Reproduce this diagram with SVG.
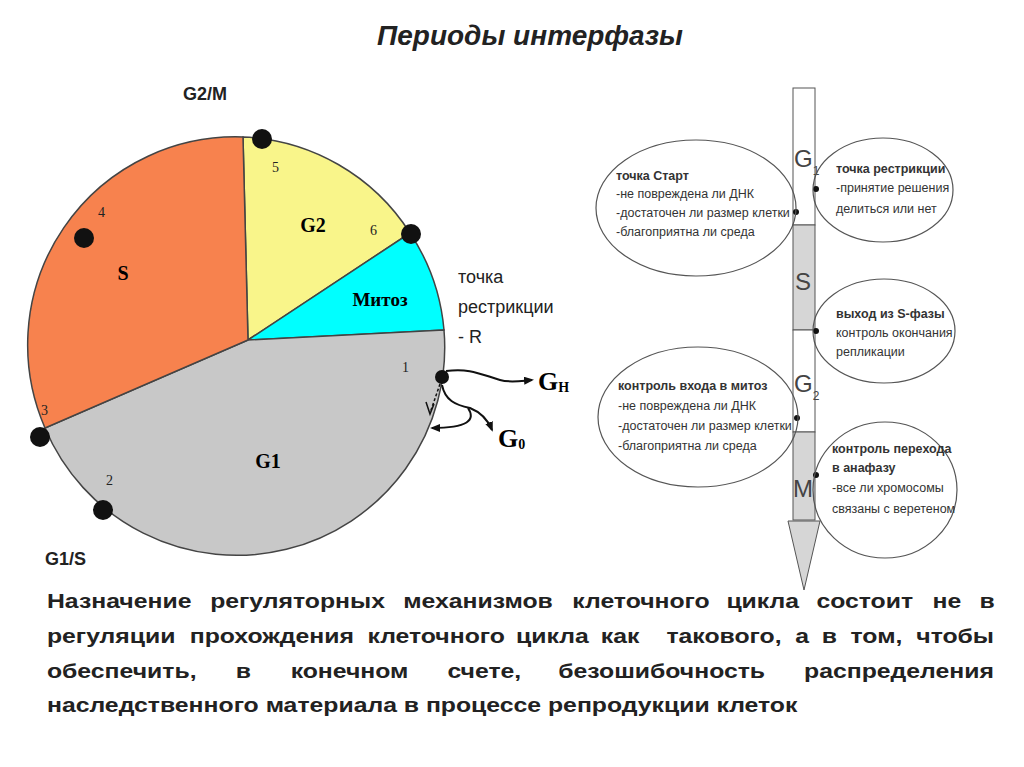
<svg xmlns="http://www.w3.org/2000/svg" width="1024" height="767" viewBox="0 0 1024 767">
<style>
.t{font-family:"Liberation Sans",Arial,sans-serif}
.tr{font-family:"Liberation Serif","Times New Roman",serif;font-weight:bold}
.sec{stroke:#444;stroke-width:1.5}
.ov{fill:none;stroke:#555;stroke-width:1.2}
.ot{font-family:"Liberation Sans",Arial,sans-serif;font-size:12.5px;fill:#333}
.ob{font-weight:bold}
.dot{fill:#111}
.para{font-family:"Liberation Sans",Arial,sans-serif;font-size:21px;font-weight:bold;fill:#222}
.ln{fill:none;stroke:#111;stroke-width:2}
</style>
<defs>
<marker id="ah" markerWidth="10" markerHeight="8" refX="8" refY="4" orient="auto" markerUnits="userSpaceOnUse"><path d="M0,0 L10,4 L0,8 Z" fill="#111"/></marker>
</defs>
<rect width="1024" height="767" fill="#fff"/>
<text class="t" x="530" y="45" font-size="28" font-style="italic" font-weight="bold" text-anchor="middle" fill="#222">Периоды интерфазы</text>

<g id="cycle">
<path class="sec" fill="#f9f58a" d="M248,340 L243,137 A208,208 0 0 1 410,233 Z"/>
<path class="sec" fill="#00ffff" d="M248,340 L410,233 A208,208 0 0 1 444,330 Z"/>
<path class="sec" fill="#c8c8c8" d="M248,340 L444,330 A208,208 0 0 1 45,428 Z"/>
<path class="sec" fill="#f7824e" d="M248,340 L45,428 A208,208 0 0 1 243,137 Z"/>
<text class="tr" x="313" y="232" font-size="20" text-anchor="middle">G2</text>
<text class="tr" x="123" y="280" font-size="20" text-anchor="middle">S</text>
<text class="tr" x="380" y="306" font-size="19" text-anchor="middle">Митоз</text>
<text class="tr" x="268" y="468" font-size="20" text-anchor="middle">G1</text>
<g font-family="Liberation Serif,serif" font-size="14" fill="#222">
<text x="272" y="172">5</text><text x="370" y="235">6</text><text x="98" y="217">4</text>
<text x="41" y="415">3</text><text x="106" y="485">2</text><text x="402" y="372">1</text>
</g>
<circle class="dot" cx="262" cy="139" r="10"/><circle class="dot" cx="411" cy="234" r="10"/>
<circle class="dot" cx="84" cy="238" r="10"/><circle class="dot" cx="40" cy="437" r="10"/>
<circle class="dot" cx="103" cy="510" r="10"/><circle class="dot" cx="442" cy="377" r="7"/>
</g>
<text class="t" x="183" y="100" font-size="18" font-weight="bold" fill="#222">G2/M</text>
<text class="t" x="45" y="565" font-size="18" font-weight="bold" fill="#222">G1/S</text>
<g id="label-r" class="t" font-size="18" fill="#222">
<text x="458" y="283">точка</text><text x="458" y="313">рестрикции</text><text x="458" y="343">- R</text>
</g>
<g id="connectors">
<path class="ln" d="M446,371 C470,368 480,374 500,380 C510,383 520,381 532,380" marker-end="url(#ah)"/>
<path class="ln" d="M442,385 C445,400 455,405 470,408 C480,412 488,420 492,430" marker-end="url(#ah)"/>
<path class="ln" d="M468,408 C476,420 468,428 432,428" marker-end="url(#ah)"/>
<path d="M440,384 L430,413" stroke="#111" stroke-width="1.5" stroke-dasharray="3,2" fill="none"/>
<path d="M426,402 L430,414 L434,404" stroke="#111" stroke-width="1.5" fill="none"/>
</g>
<text class="tr" x="538" y="390" font-size="26">G<tspan font-size="14" dy="2">H</tspan></text>
<text class="tr" x="498" y="447" font-size="26">G<tspan font-size="14" dy="2">0</tspan></text>

<g id="bar">
<rect x="793" y="88" width="22" height="137" fill="#fff" stroke="#555"/>
<rect x="793" y="225" width="22" height="105" fill="#d6d6d6" stroke="#555"/>
<rect x="793" y="330" width="22" height="102" fill="#fff" stroke="#555"/>
<rect x="793" y="432" width="22" height="88" fill="#d6d6d6" stroke="#555"/>
<path d="M788,521 L820,521 L804,590 Z" fill="#d6d6d6" stroke="#555"/>
<g class="t" font-size="24" fill="#444">
<text x="794" y="167">G<tspan font-size="12" dy="8">1</tspan></text>
<text x="795" y="290">S</text>
<text x="794" y="392">G<tspan font-size="12" dy="8">2</tspan></text>
<text x="793" y="497">M</text>
</g>
<circle class="dot" cx="816" cy="189" r="3"/><circle class="dot" cx="796" cy="212" r="3"/>
<circle class="dot" cx="816" cy="331" r="3"/><circle class="dot" cx="797" cy="418" r="3"/>
<circle class="dot" cx="816" cy="475" r="3"/>
</g>

<g id="oval-start"><ellipse class="ov" cx="696" cy="208" rx="100" ry="68"/>
<text class="ot ob" x="616" y="180">точка Старт</text>
<text class="ot" x="616" y="198">-не повреждена ли ДНК</text>
<text class="ot" x="616" y="217">-достаточен ли размер клетки</text>
<text class="ot" x="616" y="236">-благоприятна ли среда</text></g>
<g id="oval-r"><ellipse class="ov" cx="883" cy="190" rx="70" ry="52"/>
<text class="ot ob" x="836" y="173">точка рестрикции</text>
<text class="ot" x="836" y="192">-принятие решения</text>
<text class="ot" x="836" y="213">делиться или нет</text></g>
<g id="oval-s"><ellipse class="ov" cx="884" cy="331" rx="71" ry="52"/>
<text class="ot ob" x="836" y="318">выход из S-фазы</text>
<text class="ot" x="836" y="337">контроль окончания</text>
<text class="ot" x="836" y="356">репликации</text></g>
<g id="oval-m"><ellipse class="ov" cx="698" cy="417" rx="100" ry="70"/>
<text class="ot ob" x="618" y="390">контроль входа в митоз</text>
<text class="ot" x="618" y="410">-не повреждена ли ДНК</text>
<text class="ot" x="618" y="430">-достаточен ли размер клетки</text>
<text class="ot" x="618" y="450">-благоприятна ли среда</text></g>
<g id="oval-a"><ellipse class="ov" cx="885" cy="490" rx="72" ry="68"/>
<text class="ot ob" x="832" y="453">контроль перехода</text>
<text class="ot ob" x="832" y="472">в анафазу</text>
<text class="ot" x="832" y="492">-все ли хромосомы</text>
<text class="ot" x="832" y="513">связаны с веретеном</text></g>

<g id="paragraph" class="para" transform="scale(1.18,1)">
<text y="608"><tspan x="39.8">Назначение</tspan><tspan x="178.1">регуляторных</tspan><tspan x="341.7">механизмов</tspan><tspan x="485">клеточного</tspan><tspan x="615.6">цикла</tspan><tspan x="691.9">состоит</tspan><tspan x="790.3">не</tspan><tspan x="830">в</tspan></text>
<text y="643"><tspan x="39.8">регуляции</tspan><tspan x="160.8">прохождения</tspan><tspan x="311.4">клеточного</tspan><tspan x="437.4">цикла</tspan><tspan x="509.2">как</tspan><tspan x="564.8">такового,</tspan><tspan x="673.9">а</tspan><tspan x="696.5">в</tspan><tspan x="720.8">том,</tspan><tspan x="776.5">чтобы</tspan></text>
<text y="678"><tspan x="39.8">обеспечить,</tspan><tspan x="199.8">в</tspan><tspan x="246.3">конечном</tspan><tspan x="379.2">счете,</tspan><tspan x="473.1">безошибочность</tspan><tspan x="681.4">распределения</tspan></text>
<text y="712" x="39.8">наследственного материала в процессе репродукции клеток</text>
</g>
</svg>
